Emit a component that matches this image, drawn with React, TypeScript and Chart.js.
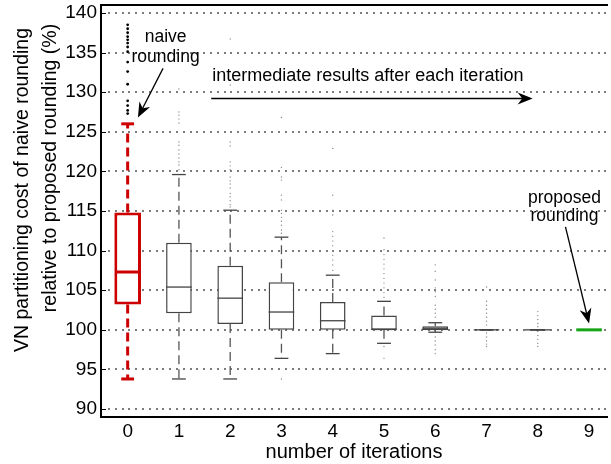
import React, { useEffect, useRef } from 'react';
import { Chart, registerables } from 'chart.js';

Chart.register(...registerables);

const FONT = '"Liberation Sans", Arial, Helvetica, sans-serif';

// ---- data ----
const iterations = [0, 1, 2, 3, 4, 5, 6, 7, 8, 9];
const q1 = [103.2, 102.1, 100.75, 100.0, 100.0, 100.0, 99.95, 100, 100, 100];
const medians = [107.3, 105.4, 104.0, 102.25, 101.15, 100.05, 100.2, 100, 100, 100];
const q3 = [114.8, 111.0, 108.1, 106.0, 103.5, 101.8, 100.45, 100, 100, 100];
const whiskerLow = [93.8, 93.8, 93.8, 96.4, 97.0, 98.3, 99.7, 100, 100, 100];
const whiskerHigh = [126.0, 119.6, 115.1, 111.7, 106.9, 103.6, 100.9, 100, 100, 100];

const outliers0 = [138.5, 138.0, 137.5, 137.0, 136.6, 136.2, 135.7, 135.1, 133.8, 132.6, 131.0, 128.9, 128.3, 127.7, 127.3];
const outliers1 = [130.4, 127.5, 127.1, 126.6, 126.1, 123.7, 123.3, 122.7, 122.2, 121.7, 121.2, 120.8, 120.2];
const outliers2 = [136.7, 131.5, 130.9, 123.7, 123.2, 121.2, 120.7, 120.2, 119.3, 118.8, 118.4, 117.9, 117.2, 116.8, 116.3, 115.8, 115.5];
const outliers3 = [126.8, 120.5, 119.3, 118.9, 117.0, 116.4, 115.1, 114.7, 114.2, 113.7, 113.2, 112.6, 112.2, 93.8];
const outliers4 = [122.9, 117.0, 115.1, 114.5, 112.4, 111.8, 111.2, 110.6, 110.0, 109.4, 108.8, 108.2, 107.5];
const outliers5 = [111.6, 110.1, 109.5, 108.9, 108.3, 107.7, 107.1, 106.5, 105.9, 105.3, 104.7, 104.1, 97.9, 96.4];
const outliers6 = [108.2, 107.4, 106.3, 105.3, 104.8, 104.2, 103.1, 102.6, 102.1, 101.6, 99.1, 98.6, 98.1, 97.5, 97.0];
const outliers7 = [105.4, 103.6, 103.1, 102.6, 102.1, 101.6, 101.1, 100.6, 99.6, 99.1, 98.6, 98.2, 97.9];
const outliers8 = [102.3, 101.8, 101.3, 100.8, 100.4, 99.8, 99.3, 98.8, 98.3, 97.9];
const outliers9: number[] = [];
const outliers = [outliers0, outliers1, outliers2, outliers3, outliers4, outliers5, outliers6, outliers7, outliers8, outliers9];

const yTickValues = [90, 95, 100, 105, 110, 115, 120, 125, 130, 135, 140];
const xTickLabels = ['0', '1', '2', '3', '4', '5', '6', '7', '8', '9'];
const yTitleLines = ['VN partitioning cost of naive rounding', 'relative to proposed rounding (%)'];
const xTitle = 'number of iterations';

// annotations (data units)
const naiveText = { x: 0.74, lines: ['naive', 'rounding'], ys: [136.3, 133.8] };
const naiveArrow = { from: [0.69, 133.0], to: [0.2, 126.8] };
const midText = { x: 1.65, y: 131.4, text: 'intermediate results after each iteration' };
const midArrow = { from: [1.63, 129.2], to: [7.9, 129.2] };
const propText = { x: 8.52, lines: ['proposed', 'rounding'], ys: [116.0, 113.7] };
const propArrow = { from: [8.54, 113.0], to: [9.0, 100.8] };

// ---- styles ----
const RED = '#cc0000';
const GREEN = '#16a516';
const GRAY = '#444444';
const WHISKER_GRAY = '#555555';
const BOX_HALF = 0.25;
const CAP_HALF = 0.135;
const RED_CAP_HALF = 0.125;

function drawArrow(ctx: CanvasRenderingContext2D, x0: number, y0: number, x1: number, y1: number) {
  const ang = Math.atan2(y1 - y0, x1 - x0);
  const len = 15;
  const half = 6;
  ctx.beginPath();
  ctx.moveTo(x0, y0);
  ctx.lineTo(x1 - Math.cos(ang) * len * 0.6, y1 - Math.sin(ang) * len * 0.6);
  ctx.stroke();
  const bx = x1 - Math.cos(ang) * len;
  const by = y1 - Math.sin(ang) * len;
  const nx = -Math.sin(ang);
  const ny = Math.cos(ang);
  const mx = x1 - Math.cos(ang) * len * 0.7;
  const my = y1 - Math.sin(ang) * len * 0.7;
  ctx.beginPath();
  ctx.moveTo(x1, y1);
  ctx.lineTo(bx + nx * half, by + ny * half);
  ctx.lineTo(mx, my);
  ctx.lineTo(bx - nx * half, by - ny * half);
  ctx.closePath();
  ctx.fill();
}

const boxPlugin = {
  id: 'boxExtras',
  afterDatasetsDraw(chart: any) {
    const { ctx, scales } = chart;
    const xs = scales.x;
    const ys = scales.y;
    ctx.save();
    iterations.forEach((it, i) => {
      const naive = i === 0;
      const final = i === iterations.length - 1;
      const color = naive ? RED : final ? GREEN : GRAY;
      const lw = naive || final ? 3 : 1.3;
      const cx = xs.getPixelForValue(it);
      const capHalf = Math.abs(xs.getPixelForValue(it + (naive ? RED_CAP_HALF : CAP_HALF)) - cx);
      const boxHalf = Math.abs(xs.getPixelForValue(it + BOX_HALF) - cx);
      ctx.lineWidth = naive ? 3 : 1.3;
      ctx.strokeStyle = naive ? RED : WHISKER_GRAY;
      ctx.setLineDash([9, 5]);
      if (whiskerHigh[i] > q3[i]) {
        ctx.beginPath();
        ctx.moveTo(cx, ys.getPixelForValue(q3[i]));
        ctx.lineTo(cx, ys.getPixelForValue(whiskerHigh[i]));
        ctx.stroke();
      }
      if (whiskerLow[i] < q1[i]) {
        ctx.beginPath();
        ctx.moveTo(cx, ys.getPixelForValue(q1[i]));
        ctx.lineTo(cx, ys.getPixelForValue(whiskerLow[i]));
        ctx.stroke();
      }
      ctx.setLineDash([]);
      ctx.strokeStyle = naive ? RED : final ? GREEN : GRAY;
      if (!final) {
        [whiskerLow[i], whiskerHigh[i]].forEach((v) => {
          const py = ys.getPixelForValue(v);
          ctx.beginPath();
          ctx.moveTo(cx - capHalf, py);
          ctx.lineTo(cx + capHalf, py);
          ctx.stroke();
        });
      }
      ctx.strokeStyle = color;
      ctx.lineWidth = lw;
      const my = ys.getPixelForValue(medians[i]);
      ctx.beginPath();
      ctx.moveTo(cx - boxHalf + (naive ? 1.5 : 0), my);
      ctx.lineTo(cx + boxHalf - (naive ? 1.5 : 0), my);
      ctx.stroke();
    });
    ctx.restore();
  },
};

const gridPlugin = {
  id: 'dottedGrid',
  beforeDatasetsDraw(chart: any) {
    const { ctx, chartArea, scales } = chart;
    const ys = scales.y;
    ctx.save();
    ctx.fillStyle = '#7c7c7c';
    yTickValues.forEach((v) => {
      const py = Math.round(ys.getPixelForValue(v));
      for (let px = chartArea.left + 7; px < chartArea.right; px += 6.8) {
        ctx.fillRect(Math.round(px), py - 1, 2, 2);
      }
    });
    ctx.restore();
  },
};

const framePlugin = {
  id: 'frameAndText',
  afterDraw(chart: any) {
    const { ctx, chartArea, scales } = chart;
    const xs = scales.x;
    const ys = scales.y;
    ctx.save();
    ctx.strokeStyle = '#000';
    ctx.lineWidth = 2;
    ctx.beginPath();
    ctx.moveTo(chartArea.left, chartArea.top);
    ctx.lineTo(chartArea.right + 1, chartArea.top);
    ctx.stroke();
    ctx.lineWidth = 1;
    yTickValues.forEach((v) => {
      const py = Math.round(ys.getPixelForValue(v)) + 0.5;
      ctx.beginPath();
      ctx.moveTo(chartArea.left, py);
      ctx.lineTo(chartArea.left + 5, py);
      ctx.stroke();
    });
    ctx.fillStyle = '#000';
    ctx.font = `19.5px ${FONT}`;
    ctx.textAlign = 'center';
    ctx.textBaseline = 'middle';
    const titleCenters = [
      { x: 23, y: 190 },
      { x: 51, y: 168 },
    ];
    yTitleLines.forEach((line, k) => {
      ctx.save();
      ctx.translate(titleCenters[k].x, titleCenters[k].y);
      ctx.rotate(-Math.PI / 2);
      ctx.fillText(line, 0, 0);
      ctx.restore();
    });
    ctx.font = `17.5px ${FONT}`;
    ctx.textBaseline = 'alphabetic';
    ctx.textAlign = 'center';
    naiveText.lines.forEach((t, k) => {
      ctx.fillText(t, xs.getPixelForValue(naiveText.x), ys.getPixelForValue(naiveText.ys[k]));
    });
    propText.lines.forEach((t, k) => {
      ctx.fillText(t, xs.getPixelForValue(propText.x), ys.getPixelForValue(propText.ys[k]));
    });
    ctx.textAlign = 'left';
    ctx.font = `18px ${FONT}`;
    ctx.fillText(midText.text, xs.getPixelForValue(midText.x), ys.getPixelForValue(midText.y));
    ctx.strokeStyle = '#000';
    ctx.fillStyle = '#000';
    ctx.lineWidth = 1.3;
    [naiveArrow, midArrow, propArrow].forEach((a) => {
      drawArrow(
        ctx,
        xs.getPixelForValue(a.from[0]),
        ys.getPixelForValue(a.from[1]),
        xs.getPixelForValue(a.to[0]),
        ys.getPixelForValue(a.to[1])
      );
    });
    ctx.restore();
  },
};

export default function App() {
  const canvasRef = useRef<HTMLCanvasElement | null>(null);

  useEffect(() => {
    document.body.style.margin = '0';
    const canvas = canvasRef.current;
    if (!canvas) return;

    const boxIdx = iterations.map((_, i) => i).filter((i) => q3[i] > q1[i]);
    const grayBoxes = boxIdx.filter((i) => i !== 0).map((i) => ({ x: iterations[i], y: [q1[i], q3[i]] }));

    const outlierPoints0 = outliers[0].map((v) => ({ x: iterations[0], y: v }));
    const outlierPointsRest: { x: number; y: number }[] = [];
    outliers.forEach((arr, i) => {
      if (i === 0) return;
      arr.forEach((v) => outlierPointsRest.push({ x: iterations[i], y: v }));
    });

    const chart = new Chart(canvas, {
      type: 'bar',
      data: {
        datasets: [
          {
            type: 'bar',
            data: [{ x: iterations[0], y: [q1[0], q3[0]] }] as any,
            backgroundColor: '#ffffff',
            borderColor: RED,
            borderWidth: 3,
            borderSkipped: false,
            grouped: false,
            barPercentage: 0.52,
            categoryPercentage: 1,
            order: 1,
          } as any,
          {
            type: 'bar',
            data: grayBoxes as any,
            backgroundColor: '#ffffff',
            borderColor: GRAY,
            borderWidth: 1.5,
            borderSkipped: false,
            grouped: false,
            barPercentage: 0.5,
            categoryPercentage: 1,
            order: 2,
          } as any,
          {
            type: 'scatter',
            data: outlierPoints0 as any,
            pointRadius: 1.4,
            pointBackgroundColor: '#000',
            pointBorderWidth: 0,
            order: 3,
          } as any,
          {
            type: 'scatter',
            data: outlierPointsRest as any,
            pointRadius: 0.7,
            pointBackgroundColor: '#8a8a8a',
            pointBorderWidth: 0,
            order: 4,
          } as any,
        ],
      },
      options: {
        animation: false,
        responsive: false,
        devicePixelRatio: 1,
        layout: { padding: { top: 5, right: 1, left: 0, bottom: 0 } },
        plugins: {
          legend: { display: false },
          tooltip: { enabled: false },
        },
        scales: {
          x: {
            type: 'linear',
            min: -0.52,
            max: 9.35,
            offset: false,
            afterBuildTicks: (s: any) => {
              s.ticks = iterations.map((v) => ({ value: v }));
            },
            afterFit: (s: any) => {
              s.height = 47;
              s.paddingLeft = 0;
              s.paddingRight = 0;
            },
            grid: { display: false, drawTicks: false },
            border: { display: true, color: '#000', width: 2 },
            ticks: {
              padding: 3,
              color: '#000',
              font: { family: FONT, size: 19 },
              maxRotation: 0,
              autoSkip: false,
              callback: (v: any) => xTickLabels[iterations.indexOf(Number(v))] ?? '',
            },
            title: {
              display: true,
              text: xTitle,
              color: '#000',
              font: { family: FONT, size: 20 },
              padding: { top: 0, bottom: 0 },
            },
          },
          y: {
            type: 'linear',
            min: 89,
            max: 141,
            afterBuildTicks: (s: any) => {
              s.ticks = yTickValues.map((v) => ({ value: v }));
            },
            afterFit: (s: any) => {
              s.width = 101;
              s.paddingTop = 0;
              s.paddingBottom = 0;
            },
            grid: { display: false, drawTicks: false },
            border: { display: true, color: '#000', width: 2 },
            ticks: {
              padding: 4,
              color: '#000',
              font: { family: FONT, size: 19 },
              autoSkip: false,
            },
          },
        },
      } as any,
      plugins: [gridPlugin, boxPlugin, framePlugin],
    });

    return () => {
      chart.destroy();
    };
  }, []);

  return (
    <div style={{ width: 611, height: 464, background: '#fff' }}>
      <canvas ref={canvasRef} width={611} height={464} style={{ display: 'block' }} />
    </div>
  );
}
